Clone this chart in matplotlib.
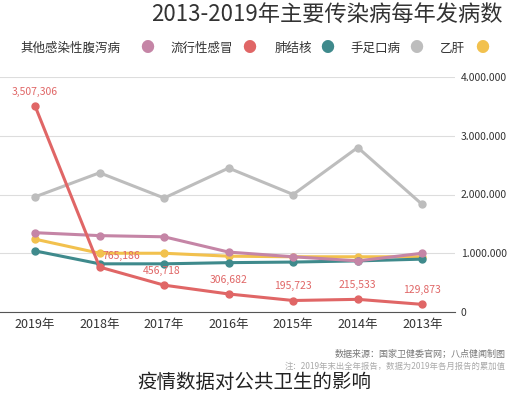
import matplotlib
matplotlib.use("Agg")
import matplotlib.pyplot as plt

plt.rcParams['font.family'] = ['Noto Sans CJK SC', 'DejaVu Sans']

years = ['2019年', '2018年', '2017年', '2016年', '2015年', '2014年', '2013年']
flu = [3507306, 765186, 456718, 306682, 195723, 215533, 129873]
hfmd = [1960000, 2370000, 1940000, 2450000, 2000000, 2800000, 1830000]
diarrhea = [1350000, 1300000, 1280000, 1020000, 940000, 870000, 1000000]
hepb = [1240000, 1000000, 1000000, 950000, 940000, 940000, 940000]
tb = [1040000, 820000, 820000, 840000, 850000, 870000, 900000]
yticks = [0, 1000000, 2000000, 3000000, 4000000]
ytick_labels = ['0', '1.000.000', '2.000.000', '3.000.000', '4.000.000']

c_hepb = '#f2c14e'
c_hfmd = '#bdbdbd'
c_tb = '#3f8a8c'
c_flu = '#e06666'
c_dia = '#c585a6'

fig = plt.figure(figsize=(5.08, 4.0), dpi=100)
ax = fig.add_axes([0.0, 0.22, 0.896, 0.5875])
x = list(range(len(years)))
for s, c in [(hfmd, c_hfmd), (hepb, c_hepb), (tb, c_tb), (diarrhea, c_dia), (flu, c_flu)]:
    ax.plot(x, s, color=c, lw=2.2, marker='o', ms=5, zorder=3)
ax.set_xlim(-0.543, 6.51)
ax.set_ylim(0, 4000000)
ax.yaxis.tick_right()
ax.set_yticks(yticks)
ax.set_yticklabels(ytick_labels, fontsize=7.5, color='#333333')
ax.set_xticks(x)
ax.set_xticklabels(years, fontsize=9, color='#333333')
ax.tick_params(length=0, pad=4)
ax.grid(axis='y', color='#dddddd', lw=0.8)
for sp in ['top', 'left', 'right']:
    ax.spines[sp].set_visible(False)
ax.spines['bottom'].set_color('#555555')
offs = [(0, 8), (2, 6), (-2, 8), (0, 8), (0, 8), (0, 8), (0, 8)]
for xi, v, o in zip(x, flu, offs):
    ax.annotate(f'{v:,}', (xi, v), xytext=o, textcoords='offset points',
                ha='left' if xi == 1 else 'center', fontsize=7.5, color=c_flu)

fig.text(0.99, 0.965, '2013-2019年主要传染病每年发病数', ha='right', va='center', fontsize=16, color='#333333')
legend = [('其他感染性腹泻病', c_dia, 0.04, 0.29), ('流行性感冒', c_flu, 0.335, 0.49),
          ('肺结核', c_tb, 0.54, 0.645), ('手足口病', c_hfmd, 0.69, 0.82), ('乙肝', c_hepb, 0.865, 0.95)]
for t, c, xp, mp in legend:
    fig.text(xp, 0.88, t, ha='left', va='center', fontsize=9, color='#333333')
    fig.text(mp, 0.88, '●', ha='center', va='center', fontsize=10, color=c)
fig.text(0.995, 0.115, '数据来源：国家卫健委官网；八点健闻制图', ha='right', va='center', fontsize=6.5, color='#777777')
fig.text(0.995, 0.085, '注：2019年末出全年报告，数据为2019年各月报告的累加值', ha='right', va='center', fontsize=6, color='#aaaaaa')
fig.text(0.5, 0.043, '疫情数据对公共卫生的影响', ha='center', va='center', fontsize=14, color='#222222')
fig.savefig('out.png', dpi=100, facecolor='white')
